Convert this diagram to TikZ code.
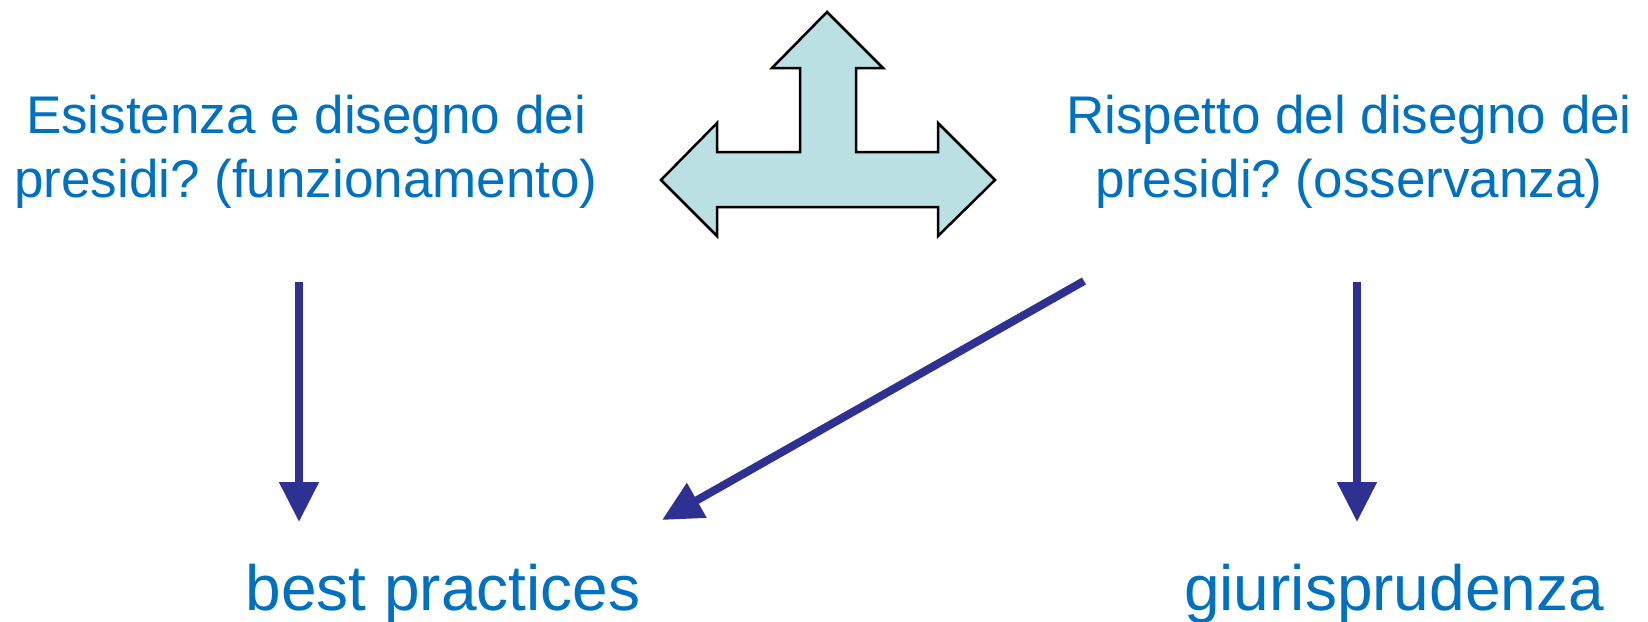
\documentclass[tikz,border=0pt]{standalone}
\usepackage{fontspec}
\setmainfont{Liberation Sans}
\usetikzlibrary{arrows.meta}
\definecolor{testo}{RGB}{0,112,192}
\definecolor{freccia}{RGB}{46,49,146}
\definecolor{acqua}{RGB}{187,224,227}
\frenchspacing
\begin{document}
\begin{tikzpicture}[x=1pt,y=-1pt,
    domanda/.style={text=testo,align=center,inner sep=0pt,font=\fontsize{53}{64}\selectfont},
    esito/.style={text=testo,anchor=base,inner sep=0pt,font=\fontsize{64}{77}\selectfont},
    flow/.style={draw=freccia,line width=8pt,-{Triangle[length=40pt,width=38pt]}}]
      \useasboundingbox (0,0) rectangle (1648,621);
      % three-way arrow
      \draw[fill=acqua,line width=2.5pt,line join=miter]
        (827,12) -- (883,68) -- (856,68) -- (856,152) -- (938,152) -- (938,123)
        -- (995,180) -- (938,236) -- (938,207) -- (717,207) -- (717,236)
        -- (661,180) -- (717,123) -- (717,152) -- (800,152) -- (800,68)
        -- (772,68) -- cycle;
      \draw
        (306,152) node[domanda] (esistenza){Esistenza e disegno dei\\presidi? (funzionamento)}
        (1349,152) node[domanda] (rispetto){Rispetto del disegno dei\\presidi? (osservanza)}
        (443,610) node[esito] (best){best practices}
        (1394,610) node[esito] (giuris){giurisprudenza};
      \coordinate (e0) at (299,282);
      \coordinate (e1) at (299,522);
      \coordinate (r0) at (1084,281);
      \coordinate (r1) at (662,520);
      \coordinate (g0) at (1357,282);
      \coordinate (g1) at (1357,522);
      \begin{scope}[flow]
        \draw (e0) to (e1);
        \draw (r0) to (r1);
        \draw (g0) to (g1);
      \end{scope}
    \end{tikzpicture}
\end{document}
